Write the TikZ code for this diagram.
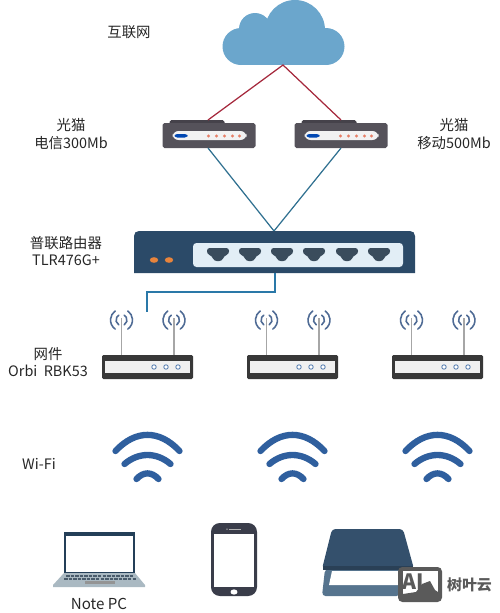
\documentclass[tikz,border=0pt]{standalone}
\usepackage{fontspec}
\setmainfont{Noto Sans CJK SC}
\definecolor{cloudc}{HTML}{6BA6CC}
\definecolor{modemc}{HTML}{55525A}
\definecolor{modemd}{HTML}{45424A}
\definecolor{navy}{HTML}{2B4A68}
\definecolor{redl}{HTML}{A5283C}
\definecolor{bluel}{HTML}{2F7090}
\definecolor{bluer}{HTML}{2A78A8}
\definecolor{wavec}{HTML}{2F5F9E}
\definecolor{antc}{HTML}{4F6B95}
\definecolor{orangep}{HTML}{E8843C}
\definecolor{panelc}{HTML}{E2EEF6}
\definecolor{portc}{HTML}{3A4C5C}
\definecolor{basec}{HTML}{AAB9C2}
\definecolor{keyc}{HTML}{4A5C6C}
\definecolor{lidc}{HTML}{34506C}
\definecolor{framec}{HTML}{56748E}
\definecolor{phonec}{HTML}{3A3D4A}
\definecolor{wmc}{HTML}{5A5A5A}
\tikzset{
  x=0.02cm,y=-0.02cm,
  lab/.style={font=\fontsize{8.2pt}{10pt}\selectfont,align=center,text=black!85,inner sep=0pt},
  lnk/.style={line width=0.7pt},
  sig/.style={antc,line width=0.9pt,line cap=round},
  wv/.style={wavec,line width=3.6pt,line cap=round},
}
\newcommand{\modem}[2]{%
  \begin{scope}[shift={(#1,#2)}]
    \fill[modemd,rounded corners=1pt] (-39,-12) rectangle (16,-6);
    \fill[modemc,rounded corners=1pt] (-46,-9) rectangle (47,16);
    \fill[white!95!black,rounded corners=3.5pt] (-36,-1) rectangle (38,8);
    \fill[blue!60!cyan!70!black,rounded corners=1.5pt] (-34,2) rectangle (-21,5.5);
    \foreach \i in {0,8,16,24,31}{\fill[red!45!brown!70] (\i,4) circle[radius=1.6];}
  \end{scope}}
\newcommand{\port}[1]{%
  \fill[portc,rounded corners=1.5pt] (#1-11,248) -- (#1+11,248) -- (#1+11,254) -- (#1+6,256) -- (#1+4,261) -- (#1-4,261) -- (#1-6,256) -- (#1-11,254) -- cycle;}
\newcommand{\arcsig}[2]{%
  \begin{scope}[shift={(#1,#2)}]
    \draw[sig] (55:11) arc[start angle=55,end angle=-55,radius=11];
    \draw[sig] (125:11) arc[start angle=125,end angle=235,radius=11];
    \draw[sig] (60:5.5) arc[start angle=60,end angle=-60,radius=5.5];
    \draw[sig] (120:5.5) arc[start angle=120,end angle=240,radius=5.5];
    \draw[black!35,line width=0.9pt] (0,-2) -- (0,35);
  \end{scope}}
\newcommand{\orbi}[1]{%
  \arcsig{#1-26}{320}
  \arcsig{#1+26.5}{320}
  \fill[black!78,rounded corners=0.8pt] (#1-45.5,355) rectangle (#1+45.5,379);
  \fill[black!6] (#1-42.5,361) rectangle (#1+42.5,373);
  \foreach \i in {6.5,18.5,30.5}{\draw[wavec!80,fill=white,line width=0.5pt] (#1+\i,367) circle[radius=2.2];}}
\newcommand{\wifi}[1]{%
  \begin{scope}[shift={(#1,0)}]
    \draw[wv] (-32,451) .. controls (-12,429.5) and (12,429.5) .. (32,451);
    \draw[wv] (-23,464) .. controls (-9,452) and (9,452) .. (23,464);
    \draw[wv] (-11,479) .. controls (-4,471.5) and (4,471.5) .. (11,479);
  \end{scope}}
\begin{document}
\begin{tikzpicture}
\useasboundingbox (0,0) rectangle (500,613);
% cloud
\fill[cloudc] (295,30) circle[radius=30];
\fill[cloudc] (255,29) circle[radius=16];
\fill[cloudc] (241,46.5) circle[radius=18.5];
\fill[cloudc] (326,46.5) circle[radius=18.5];
\fill[cloudc] (241,30) rectangle (326,65);
\coordinate (cloudtip) at (283,65);
\modem{208.5}{132}
\modem{340.5}{132}
\coordinate (m1t) at (208,120);
\coordinate (m2t) at (341,120);
\coordinate (m1b) at (208,148);
\coordinate (m2b) at (341,148);
\coordinate (swt) at (274,231);
\coordinate (swb) at (275,273);
\coordinate (ap) at (147,312);
\draw[redl,lnk] (m1t) -- (cloudtip) -- (m2t);
\draw[bluel,lnk] (m1b) -- (swt) -- (m2b);
% switch
\fill[navy] (134,273) -- (134,236) .. controls (134,233) and (136,231) .. (139,231) -- (410,231) .. controls (413,231) and (415,233) .. (415,236) -- (415,273) -- cycle;
\fill[panelc,rounded corners=2pt] (193,243) rectangle (403,267);
\foreach \p in {218,250,282,314,347,379}{\port{\p}}
\fill[orangep] (154,260) ellipse[x radius=4.2,y radius=2.8];
\fill[orangep] (169,260) ellipse[x radius=4.2,y radius=2.8];
\draw[bluer,lnk] (swb) -- (275,292) -- (147,292) -- (ap);
\orbi{147.5}
\orbi{292.5}
\orbi{437.5}
\wifi{147.5}
\wifi{292.5}
\wifi{437.5}
% laptop
\fill[navy!85!black] (64,532) rectangle (135,573);
\fill[white] (66,536) rectangle (133,572);
\fill[basec] (64,573) -- (135,573) -- (145,585) -- (145,587) -- (53,587) -- (53,585) -- cycle;
\draw[keyc,line width=0.9pt,dash pattern=on 2pt off 0.6pt] (66,576) -- (134,576);
\draw[keyc,line width=0.9pt,dash pattern=on 2pt off 0.6pt] (64,579) -- (136,579);
\fill[black!42] (85,580.5) rectangle (115,584);
\node[lab,font=\fontsize{8.6pt}{10pt}\selectfont] (notepc) at (99,604) {Note PC};
% phone
\fill[phonec,rounded corners=5pt] (211,523) rectangle (257,596);
\fill[white] (214,534) rectangle (254,587);
\fill[white] (234,592) ellipse[x radius=3.5,y radius=2.6];
\fill[white!70!black] (229,528.5) rectangle (241,529.8);
\fill[white!70!black] (227,529.1) circle[radius=0.8];
% scanner
\fill[framec,rounded corners=2pt] (325,569) -- (400,569) -- (400,596) -- (322,596) -- cycle;
\fill[white] (332,571) -- (400,571) -- (400,585) -- (329,585) -- cycle;
\fill[lidc,rounded corners=2pt] (332,529) -- (403,529) -- (414,569) -- (322,569) -- cycle;
\fill[lidc!80!black] (323,566) rectangle (413,570);
% labels
\node[lab] (t1) at (129,32) {互联网};
\node[lab] (t2) at (71,134) {光猫\\电信300Mb};
\node[lab] (t3) at (454,134) {光猫\\移动500Mb};
\node[lab,font=\fontsize{8.2pt}{9.2pt}\selectfont] (t4) at (66,251) {普联路由器\\TLR476G+};
\node[lab] (t5) at (48,362) {网件\\Orbi\ \ RBK53};
\node[lab] (t6) at (39,464) {Wi-Fi};
% watermark
\fill[wmc,rounded corners=2.5pt] (398,567) rectangle (442,602);
\fill[white] (403,571) rectangle (438,597);
\fill[wmc] (403,598) -- (403,594) -- (416,592) -- (422,584) -- (430,581) -- (435,590) -- (438,592) -- (438,598) -- cycle;
\node[inner sep=0pt,font=\fontsize{12pt}{12pt}\bfseries\selectfont,text=wmc] (ai) at (413,582) {AI};
\node[lab,font=\fontsize{8.5pt}{10pt}\bfseries\selectfont,text=wmc] (wm) at (469.5,585) {树叶云};
\end{tikzpicture}
\end{document}
